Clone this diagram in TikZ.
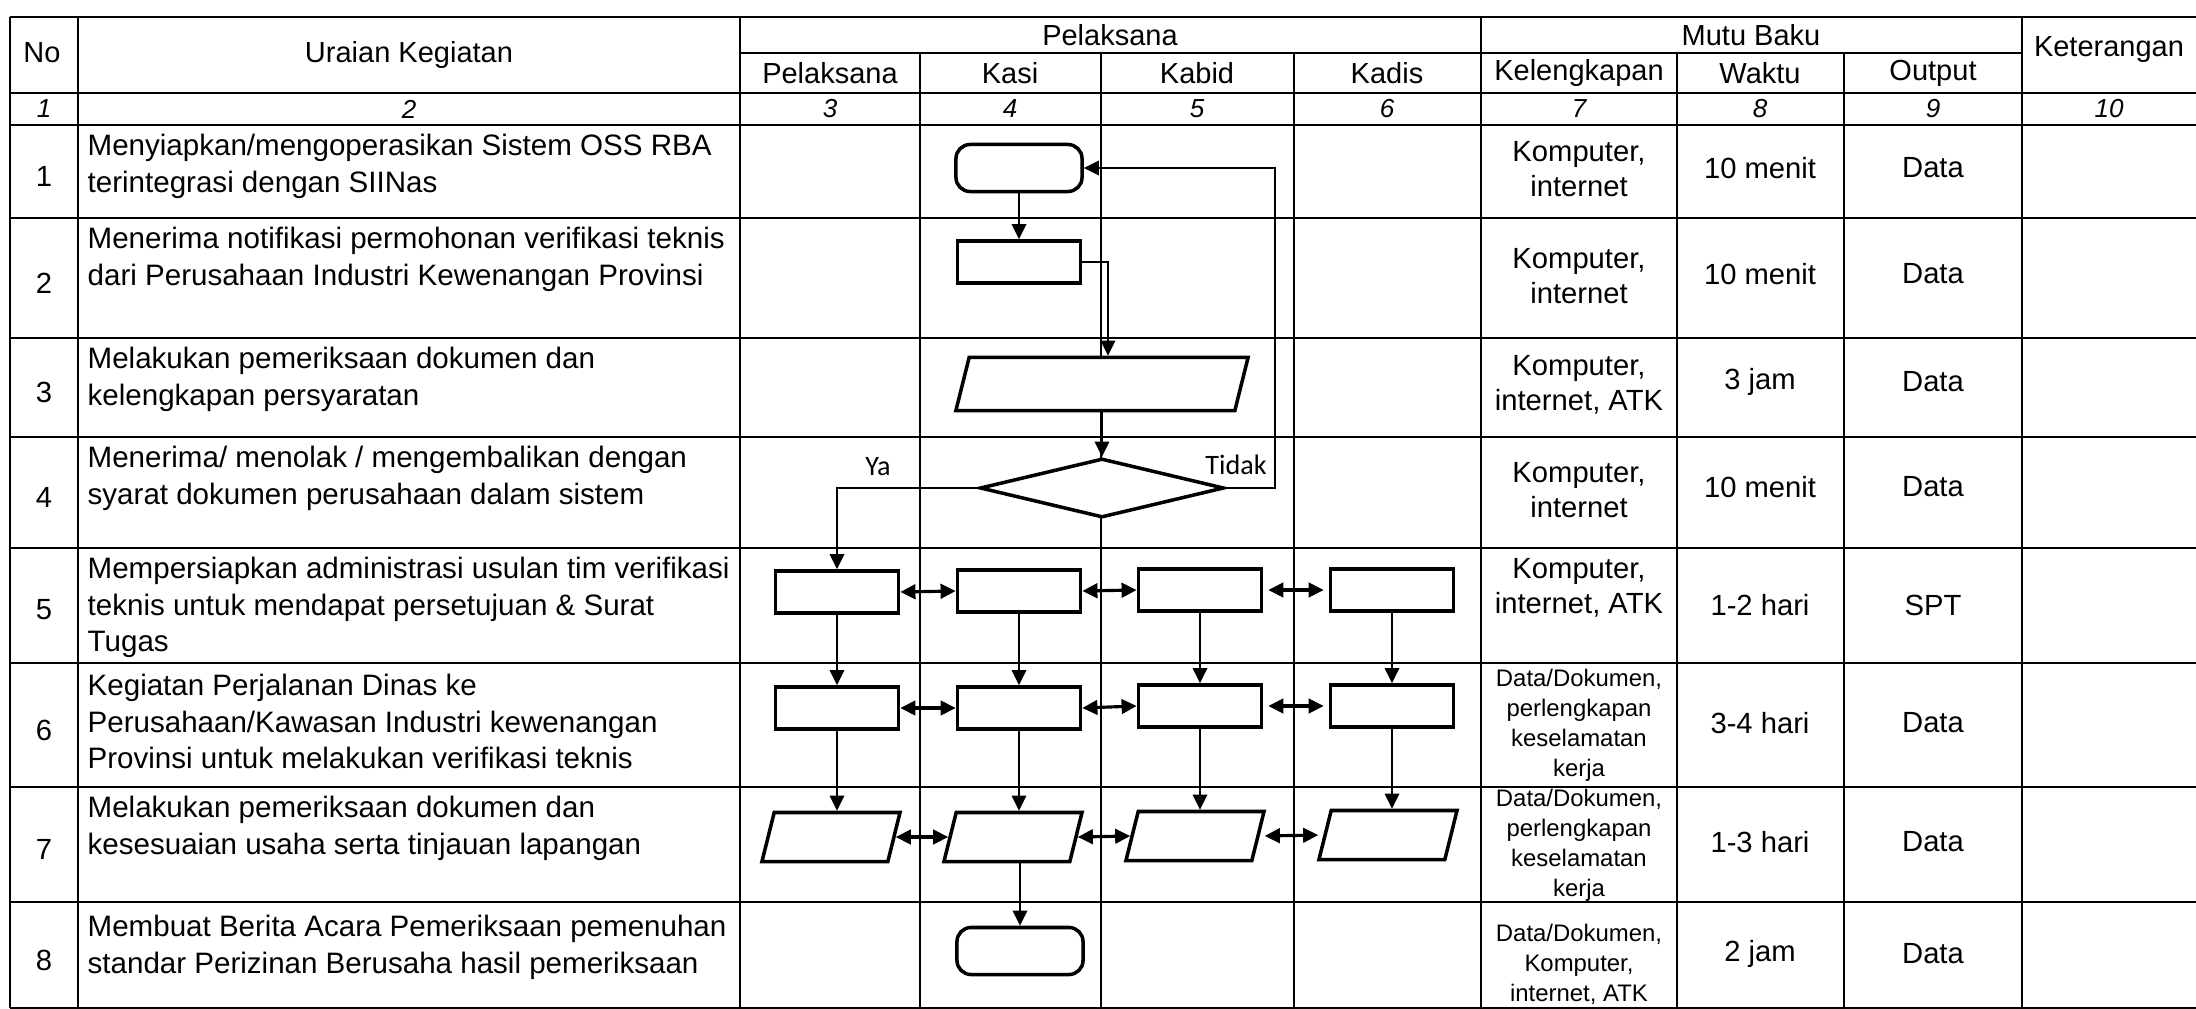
\documentclass[tikz,border=0pt]{standalone}
\usepackage{fontspec}
\setmainfont{Liberation Sans}
\newfontfamily\yafont{Carlito}
\usetikzlibrary{shapes.geometric,arrows.meta}

\tikzset{
  garis/.style={line width=0.8pt},
  judul/.style={font=\fontsize{8.25}{10}\selectfont},
  nomor/.style={font=\fontsize{7.4}{9}\selectfont\itshape},
  isi/.style={font=\fontsize{8.3}{10}\selectfont, align=center},
  kecil/.style={font=\fontsize{6.8}{8.5}\selectfont, align=center},
  uraian/.style={anchor=north west, inner sep=0pt, align=left, font=\fontsize{8.4}{10.5}\selectfont},
  proses/.style={draw, line width=1pt, fill=white, inner sep=0pt, minimum width=1.23cm, minimum height=0.42cm},
  mulai/.style={proses, rounded corners=4pt, minimum width=1.26cm, minimum height=0.47cm},
  masukan/.style={trapezium, trapezium left angle=76, trapezium right angle=104, trapezium stretches body, draw, line width=1pt, fill=white, inner xsep=1pt, inner ysep=0.245cm, minimum width=1.38cm},
  keputusan/.style={diamond, draw, line width=1pt, fill=white, inner sep=0pt, aspect=4.1, minimum width=2.44cm, minimum height=0.59cm},
  panah/.style={-{Triangle[length=4.3pt,width=4.1pt]}, line width=0.6pt},
  duapanah/.style={{Triangle[length=4.3pt,width=4.1pt]}-{Triangle[length=4.3pt,width=4.1pt]}, line width=0.9pt},
  ket/.style={font=\yafont\fontsize{8}{9}\selectfont}
}

\begin{document}
\begin{tikzpicture}[x=0.01cm, y=-0.01cm]
  \fill[white] (0,0) rectangle (2196,1009);
  \useasboundingbox (0,0) rectangle (2196,1009);

  % garis tabel
  \draw[garis] (10,17) -- (2196,17);
  \draw[garis] (740,53) -- (2022,53);
  \draw[garis] (10,93) -- (2196,93);
  \draw[garis] (10,125) -- (2196,125);
  \draw[garis] (10,218) -- (2196,218);
  \draw[garis] (10,338) -- (2196,338);
  \draw[garis] (10,437) -- (2196,437);
  \draw[garis] (10,548) -- (2196,548);
  \draw[garis] (10,663) -- (2196,663);
  \draw[garis] (10,787) -- (2196,787);
  \draw[garis] (10,902) -- (2196,902);
  \draw[garis] (10,1008) -- (2196,1008);
  \draw[garis] (10,17) -- (10,1008);
  \draw[garis] (78,17) -- (78,1008);
  \draw[garis] (740,17) -- (740,1008);
  \draw[garis] (920,53) -- (920,1008);
  \draw[garis] (1101,53) -- (1101,1008);
  \draw[garis] (1294,53) -- (1294,1008);
  \draw[garis] (1481,17) -- (1481,1008);
  \draw[garis] (1677,53) -- (1677,1008);
  \draw[garis] (1844,53) -- (1844,1008);
  \draw[garis] (2022,17) -- (2022,1008);

  % kepala tabel
  \node[judul] (hno) at (42,53) {No};
  \node[judul] (hur) at (409,55) {Uraian Kegiatan};
  \node[judul] (hpel) at (1110,35) {Pelaksana};
  \node[judul] (hmb) at (1751,35) {Mutu Baku};
  \node[judul] (hket) at (2109,50) {Keterangan};
  \node[judul] (hpl) at (830,73) {Pelaksana};
  \node[judul] (hks) at (1010,73) {Kasi};
  \node[judul] (hkb) at (1197,73) {Kabid};
  \node[judul] (hkd) at (1387,73) {Kadis};
  \node[judul] (hkl) at (1579,73) {Kelengkapan};
  \node[judul] (hwk) at (1760,73) {Waktu};
  \node[judul] (hop) at (1933,73) {Output};

  \node[nomor] (c1) at (44,109) {1};
  \node[nomor] (c2) at (409,109) {2};
  \node[nomor] (c3) at (830,109) {3};
  \node[nomor] (c4) at (1010,109) {4};
  \node[nomor] (c5) at (1197,109) {5};
  \node[nomor] (c6) at (1387,109) {6};
  \node[nomor] (c7) at (1579,109) {7};
  \node[nomor] (c8) at (1760,109) {8};
  \node[nomor] (c9) at (1933,109) {9};
  \node[nomor] (c10) at (2109,109) {10};

  % nomor baris
  \node[isi] (no1) at (44,176) {1};
  \node[isi] (no2) at (44,283) {2};
  \node[isi] (no3) at (44,392) {3};
  \node[isi] (no4) at (44,497) {4};
  \node[isi] (no5) at (44,610) {5};
  \node[isi] (no6) at (44,730) {6};
  \node[isi] (no7) at (44,849) {7};
  \node[isi] (no8) at (44,960) {8};

  % uraian kegiatan
  \node[uraian] (u1) at (87,133) {Menyiapkan/mengoperasikan Sistem OSS RBA\\terintegrasi dengan SIINas};
  \node[uraian] (u2) at (87,226) {Menerima notifikasi permohonan verifikasi teknis\\dari Perusahaan Industri Kewenangan Provinsi};
  \node[uraian] (u3) at (87,346) {Melakukan pemeriksaan dokumen dan\\kelengkapan persyaratan};
  \node[uraian] (u4) at (87,445) {Menerima/ menolak / mengembalikan dengan\\syarat dokumen perusahaan dalam sistem};
  \node[uraian] (u5) at (87,556) {Mempersiapkan administrasi usulan tim verifikasi\\teknis untuk mendapat persetujuan \& Surat\\Tugas};
  \node[uraian] (u6) at (87,673) {Kegiatan Perjalanan Dinas ke\\Perusahaan/Kawasan Industri kewenangan\\Provinsi untuk melakukan verifikasi teknis};
  \node[uraian] (u7) at (87,795) {Melakukan pemeriksaan dokumen dan\\kesesuaian usaha serta tinjauan lapangan};
  \node[uraian] (u8) at (87,914) {Membuat Berita Acara Pemeriksaan pemenuhan\\standar Perizinan Berusaha hasil pemeriksaan};

  % mutu baku
  \node[isi] (kl1) at (1579,169) {Komputer,\\internet};
  \node[isi] (kl2) at (1579,276) {Komputer,\\internet};
  \node[isi] (kl3) at (1579,385) {Komputer,\\internet, ATK};
  \node[isi] (kl4) at (1579,490) {Komputer,\\internet};
  \node[isi] (kl5) at (1579,588) {Komputer,\\internet, ATK};
  \node[kecil] (kl6) at (1579,725) {Data/Dokumen,\\perlengkapan\\keselamatan\\kerja};
  \node[kecil] (kl7) at (1579,845) {Data/Dokumen,\\perlengkapan\\keselamatan\\kerja};
  \node[kecil] (kl8) at (1579,964) {Data/Dokumen,\\Komputer,\\internet, ATK};

  \node[isi] (w1) at (1760,168) {10 menit};
  \node[isi] (w2) at (1760,274) {10 menit};
  \node[isi] (w3) at (1760,382) {3 jam};
  \node[isi] (w4) at (1760,487) {10 menit};
  \node[isi] (w5) at (1760,605) {1-2 hari};
  \node[isi] (w6) at (1760,723) {3-4 hari};
  \node[isi] (w7) at (1760,842) {1-3 hari};
  \node[isi] (w8) at (1760,954) {2 jam};

  \node[isi] (o1) at (1933,168) {Data};
  \node[isi] (o2) at (1933,274) {Data};
  \node[isi] (o3) at (1933,382) {Data};
  \node[isi] (o4) at (1933,487) {Data};
  \node[isi] (o5) at (1933,605) {SPT};
  \node[isi] (o6) at (1933,723) {Data};
  \node[isi] (o7) at (1933,842) {Data};
  \node[isi] (o8) at (1933,954) {Data};

  % bagan alir
  \node[mulai] (k1) at (1019,168) {};
  \node[proses] (k2) at (1019,262) {};
  \node[masukan, inner ysep=0.265cm, minimum width=2.92cm] (k3) at (1102,384) {};
  \node[keputusan] (k4) at (1102,488) {};

  \node[proses] (p5) at (837,592) {};
  \node[proses] (s5) at (1019,591) {};
  \node[proses] (b5) at (1200,590) {};
  \node[proses] (d5) at (1392,590) {};
  \node[proses] (p6) at (837,708) {};
  \node[proses] (s6) at (1019,708) {};
  \node[proses] (b6) at (1200,706) {};
  \node[proses] (d6) at (1392,706) {};
  \node[masukan] (p7) at (831,837) {};
  \node[masukan] (s7) at (1013,837) {};
  \node[masukan] (b7) at (1195,836) {};
  \node[masukan] (d7) at (1388,835) {};
  \node[mulai] (s8) at (1020,951) {};

  \coordinate (balik) at (1275,168);
  \node[ket] (ya) at (878,467) {Ya};
  \node[ket] (tidak) at (1236,465) {Tidak};

  \draw[panah] (k1) -- (k2);
  \draw[panah] (k2.east) -| ([xshift=0.06cm]k3.north);
  \draw[panah] (k3) -- (k4);
  \draw[panah] (k4.west) -| (p5.north);
  \draw[panah] (k4.east) -| (balik) -- (k1.east);

  \draw[duapanah] (p5.east) -- (s5.west);
  \draw[duapanah] (s5.east) -- (b5.west);
  \draw[duapanah, shorten <=0.05cm, shorten >=0.05cm] (b5.east) -- (d5.west);
  \draw[duapanah] (p6.east) -- (s6.west);
  \draw[duapanah] (s6.east) -- (b6.west);
  \draw[duapanah, shorten <=0.05cm, shorten >=0.05cm] (b6.east) -- (d6.west);
  \draw[duapanah] (p7.east) -- (s7.west);
  \draw[duapanah] (s7.east) -- (b7.west);
  \draw[duapanah, shorten <=0.05cm, shorten >=0.05cm] (b7.east) -- (d7.west);

  \draw[panah] (p5) -- (p6);
  \draw[panah] (s5) -- (s6);
  \draw[panah] (b5) -- (b6);
  \draw[panah] (d5) -- (d6);
  \draw[panah] (p6) -- (p6 |- p7.north);
  \draw[panah] (s6) -- (s6 |- s7.north);
  \draw[panah] (b6) -- (b6 |- b7.north);
  \draw[panah] (d6) -- (d6 |- d7.north);
  \draw[panah] (s8 |- s7.south) -- (s8);
\end{tikzpicture}
\end{document}
